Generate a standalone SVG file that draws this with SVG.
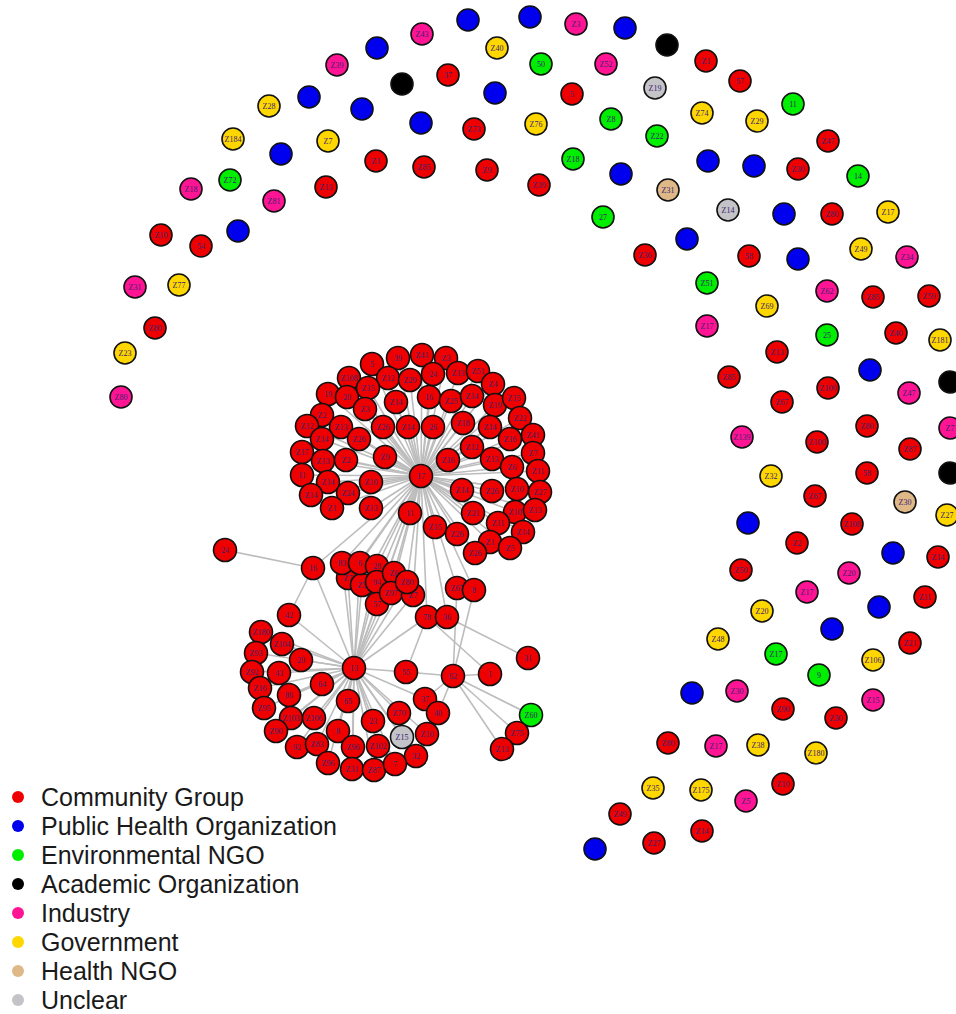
<svg xmlns="http://www.w3.org/2000/svg" width="956" height="1014" viewBox="0 0 956 1014">
<style>
.n circle{stroke:#111;stroke-width:1.6}
.cg{fill:#ee0000}.ph{fill:#0000ee}.en{fill:#00ee00}.ac{fill:#000}.in{fill:#ff1493}.gv{fill:#ffd700}.hn{fill:#deb887}.un{fill:#c4c4c8}
.n text{font-family:"Liberation Serif",serif;font-size:8px;fill:#3b2370;text-anchor:middle}
.e line{stroke:#bdbdbd;stroke-width:1.6}
.lg text{font-family:"Liberation Sans",Arial,sans-serif;font-size:25px;fill:#1a1a1a}
</style>
<rect width="956" height="1014" fill="#fff"/>
<g id="connectors" class="e">
<line x1="421" y1="476" x2="372" y2="364"/><line x1="421" y1="476" x2="398" y2="358"/><line x1="421" y1="476" x2="422" y2="355"/><line x1="421" y1="476" x2="446" y2="358"/><line x1="421" y1="476" x2="349" y2="378"/><line x1="421" y1="476" x2="388" y2="378"/><line x1="421" y1="476" x2="410" y2="380"/><line x1="421" y1="476" x2="433" y2="374"/><line x1="421" y1="476" x2="458" y2="373"/><line x1="421" y1="476" x2="478" y2="371"/><line x1="421" y1="476" x2="493" y2="384"/><line x1="421" y1="476" x2="328" y2="394"/><line x1="421" y1="476" x2="347" y2="397"/><line x1="421" y1="476" x2="368" y2="388"/><line x1="421" y1="476" x2="396" y2="402"/><line x1="421" y1="476" x2="429" y2="397"/><line x1="421" y1="476" x2="451" y2="401"/><line x1="421" y1="476" x2="472" y2="396"/><line x1="421" y1="476" x2="495" y2="405"/><line x1="421" y1="476" x2="514" y2="398"/><line x1="421" y1="476" x2="365" y2="409"/><line x1="421" y1="476" x2="322" y2="415"/><line x1="421" y1="476" x2="520" y2="418"/><line x1="421" y1="476" x2="307" y2="426"/><line x1="421" y1="476" x2="341" y2="427"/><line x1="421" y1="476" x2="383" y2="427"/><line x1="421" y1="476" x2="408" y2="427"/><line x1="421" y1="476" x2="433" y2="427"/><line x1="421" y1="476" x2="463" y2="423"/><line x1="421" y1="476" x2="490" y2="427"/><line x1="421" y1="476" x2="533" y2="435"/><line x1="421" y1="476" x2="322" y2="439"/><line x1="421" y1="476" x2="359" y2="439"/><line x1="421" y1="476" x2="510" y2="439"/><line x1="421" y1="476" x2="302" y2="452"/><line x1="421" y1="476" x2="323" y2="461"/><line x1="421" y1="476" x2="346" y2="460"/><line x1="421" y1="476" x2="385" y2="457"/><line x1="421" y1="476" x2="472" y2="447"/><line x1="421" y1="476" x2="533" y2="453"/><line x1="421" y1="476" x2="448" y2="460"/><line x1="421" y1="476" x2="492" y2="459"/><line x1="421" y1="476" x2="512" y2="467"/><line x1="421" y1="476" x2="538" y2="471"/><line x1="421" y1="476" x2="302" y2="475"/><line x1="421" y1="476" x2="328" y2="482"/><line x1="421" y1="476" x2="371" y2="482"/><line x1="421" y1="476" x2="462" y2="490"/><line x1="421" y1="476" x2="492" y2="491"/><line x1="421" y1="476" x2="517" y2="489"/><line x1="421" y1="476" x2="540" y2="492"/><line x1="421" y1="476" x2="311" y2="495"/><line x1="421" y1="476" x2="348" y2="493"/><line x1="421" y1="476" x2="332" y2="508"/><line x1="421" y1="476" x2="371" y2="508"/><line x1="421" y1="476" x2="410" y2="513"/><line x1="421" y1="476" x2="473" y2="513"/><line x1="421" y1="476" x2="515" y2="512"/><line x1="421" y1="476" x2="535" y2="510"/><line x1="421" y1="476" x2="498" y2="523"/><line x1="421" y1="476" x2="435" y2="527"/><line x1="421" y1="476" x2="457" y2="534"/><line x1="421" y1="476" x2="523" y2="532"/><line x1="421" y1="476" x2="490" y2="542"/><line x1="421" y1="476" x2="510" y2="548"/><line x1="421" y1="476" x2="475" y2="553"/>
<line x1="421" y1="476" x2="313" y2="568"/><line x1="421" y1="476" x2="342" y2="563"/><line x1="421" y1="476" x2="360" y2="563"/><line x1="421" y1="476" x2="377" y2="566"/><line x1="421" y1="476" x2="348" y2="578"/><line x1="421" y1="476" x2="362" y2="585"/><line x1="421" y1="476" x2="377" y2="582"/><line x1="421" y1="476" x2="394" y2="573"/><line x1="421" y1="476" x2="407" y2="582"/><line x1="421" y1="476" x2="391" y2="593"/><line x1="421" y1="476" x2="413" y2="595"/><line x1="421" y1="476" x2="377" y2="604"/><line x1="421" y1="476" x2="457" y2="588"/><line x1="421" y1="476" x2="474" y2="590"/><line x1="421" y1="476" x2="427" y2="617"/><line x1="421" y1="476" x2="447" y2="617"/><line x1="421" y1="476" x2="354" y2="668"/>
<line x1="354" y1="668" x2="289" y2="615"/><line x1="354" y1="668" x2="313" y2="568"/><line x1="354" y1="668" x2="342" y2="563"/><line x1="354" y1="668" x2="360" y2="563"/><line x1="354" y1="668" x2="377" y2="566"/><line x1="354" y1="668" x2="348" y2="578"/><line x1="354" y1="668" x2="362" y2="585"/><line x1="354" y1="668" x2="377" y2="582"/><line x1="354" y1="668" x2="394" y2="573"/><line x1="354" y1="668" x2="407" y2="582"/><line x1="354" y1="668" x2="391" y2="593"/><line x1="354" y1="668" x2="413" y2="595"/><line x1="354" y1="668" x2="377" y2="604"/><line x1="354" y1="668" x2="427" y2="617"/><line x1="354" y1="668" x2="406" y2="672"/><line x1="354" y1="668" x2="425" y2="699"/>
<line x1="354" y1="668" x2="261" y2="632"/><line x1="354" y1="668" x2="282" y2="644"/><line x1="354" y1="668" x2="256" y2="653"/><line x1="354" y1="668" x2="301" y2="660"/><line x1="354" y1="668" x2="252" y2="672"/><line x1="354" y1="668" x2="279" y2="673"/><line x1="354" y1="668" x2="322" y2="684"/><line x1="354" y1="668" x2="260" y2="688"/><line x1="354" y1="668" x2="289" y2="695"/><line x1="354" y1="668" x2="348" y2="701"/><line x1="354" y1="668" x2="264" y2="708"/><line x1="354" y1="668" x2="291" y2="718"/><line x1="354" y1="668" x2="314" y2="718"/><line x1="354" y1="668" x2="399" y2="713"/><line x1="354" y1="668" x2="373" y2="721"/><line x1="354" y1="668" x2="276" y2="731"/><line x1="354" y1="668" x2="338" y2="731"/><line x1="354" y1="668" x2="402" y2="737"/><line x1="354" y1="668" x2="427" y2="734"/><line x1="354" y1="668" x2="297" y2="747"/><line x1="354" y1="668" x2="317" y2="744"/><line x1="354" y1="668" x2="353" y2="747"/><line x1="354" y1="668" x2="378" y2="746"/><line x1="354" y1="668" x2="416" y2="756"/><line x1="354" y1="668" x2="328" y2="763"/><line x1="354" y1="668" x2="352" y2="769"/><line x1="354" y1="668" x2="374" y2="770"/><line x1="354" y1="668" x2="395" y2="764"/>
<line x1="225" y1="550" x2="313" y2="568"/><line x1="313" y1="568" x2="289" y2="615"/><line x1="447" y1="617" x2="528" y2="658"/><line x1="427" y1="617" x2="406" y2="672"/><line x1="427" y1="617" x2="490" y2="674"/><line x1="457" y1="588" x2="453" y2="676"/><line x1="474" y1="590" x2="453" y2="676"/><line x1="453" y1="676" x2="406" y2="672"/><line x1="453" y1="676" x2="490" y2="674"/><line x1="453" y1="676" x2="531" y2="715"/><line x1="453" y1="676" x2="517" y2="733"/><line x1="453" y1="676" x2="502" y2="749"/><line x1="453" y1="676" x2="425" y2="699"/><line x1="453" y1="676" x2="438" y2="713"/>
</g>
<g id="outer">
<g id="o1" class="n"><circle class="ph" cx="468" cy="20" r="11"/></g>
<g id="o2" class="n"><circle class="ph" cx="530" cy="17" r="11"/></g>
<g id="o3" class="n"><circle class="in" cx="576" cy="24" r="11"/><text x="576" y="27">Z3</text></g>
<g id="o4" class="n"><circle class="ph" cx="625" cy="28" r="11"/></g>
<g id="o5" class="n"><circle class="ac" cx="667" cy="45" r="11"/></g>
<g id="o6" class="n"><circle class="cg" cx="706" cy="61" r="11"/><text x="706" y="64">Z1</text></g>
<g id="o7" class="n"><circle class="cg" cx="740" cy="81" r="11"/><text x="740" y="84">57</text></g>
<g id="o8" class="n"><circle class="en" cx="793" cy="104" r="11"/><text x="793" y="107">11</text></g>
<g id="o9" class="n"><circle class="cg" cx="828" cy="141" r="11"/><text x="828" y="144">Z47</text></g>
<g id="o10" class="n"><circle class="en" cx="858" cy="176" r="11"/><text x="858" y="179">14</text></g>
<g id="o11" class="n"><circle class="gv" cx="888" cy="212" r="11"/><text x="888" y="215">Z17</text></g>
<g id="o12" class="n"><circle class="in" cx="907" cy="257" r="11"/><text x="907" y="260">Z34</text></g>
<g id="o13" class="n"><circle class="cg" cx="929" cy="296" r="11"/><text x="929" y="299">Z59</text></g>
<g id="o14" class="n"><circle class="gv" cx="940" cy="340" r="11"/><text x="940" y="343">Z181</text></g>
<g id="o15" class="n"><circle class="ac" cx="950" cy="382" r="11"/></g>
<g id="o16" class="n"><circle class="in" cx="950" cy="428" r="11"/><text x="950" y="431">Z7</text></g>
<g id="o17" class="n"><circle class="ac" cx="950" cy="473" r="11"/></g>
<g id="o18" class="n"><circle class="gv" cx="947" cy="515" r="11"/><text x="947" y="518">Z27</text></g>
<g id="o19" class="n"><circle class="in" cx="422" cy="34" r="11"/><text x="422" y="37">Z43</text></g>
<g id="o20" class="n"><circle class="ph" cx="377" cy="48" r="11"/></g>
<g id="o21" class="n"><circle class="in" cx="337" cy="65" r="11"/><text x="337" y="68">Z39</text></g>
<g id="o22" class="n"><circle class="gv" cx="497" cy="48" r="11"/><text x="497" y="51">Z40</text></g>
<g id="o23" class="n"><circle class="en" cx="541" cy="64" r="11"/><text x="541" y="67">50</text></g>
<g id="o24" class="n"><circle class="in" cx="606" cy="64" r="11"/><text x="606" y="67">Z52</text></g>
<g id="o25" class="n"><circle class="un" cx="655" cy="88" r="11"/><text x="655" y="91">Z19</text></g>
<g id="o26" class="n"><circle class="gv" cx="702" cy="113" r="11"/><text x="702" y="116">Z74</text></g>
<g id="o27" class="n"><circle class="gv" cx="757" cy="121" r="11"/><text x="757" y="124">Z29</text></g>
<g id="o28" class="n"><circle class="cg" cx="798" cy="169" r="11"/><text x="798" y="172">Z30</text></g>
<g id="o29" class="n"><circle class="cg" cx="832" cy="214" r="11"/><text x="832" y="217">Z80</text></g>
<g id="o30" class="n"><circle class="gv" cx="861" cy="249" r="11"/><text x="861" y="252">Z49</text></g>
<g id="o31" class="n"><circle class="cg" cx="873" cy="297" r="11"/><text x="873" y="300">Z85</text></g>
<g id="o32" class="n"><circle class="cg" cx="896" cy="333" r="11"/><text x="896" y="336">Z40</text></g>
<g id="o33" class="n"><circle class="in" cx="909" cy="393" r="11"/><text x="909" y="396">Z47</text></g>
<g id="o34" class="n"><circle class="cg" cx="910" cy="449" r="11"/><text x="910" y="452">Z87</text></g>
<g id="o35" class="n"><circle class="hn" cx="905" cy="502" r="11"/><text x="905" y="505">Z30</text></g>
<g id="o36" class="n"><circle class="cg" cx="938" cy="557" r="11"/><text x="938" y="560">Z14</text></g>
<g id="o37" class="n"><circle class="cg" cx="925" cy="597" r="11"/><text x="925" y="600">Z11</text></g>
<g id="o38" class="n"><circle class="cg" cx="910" cy="643" r="11"/><text x="910" y="646">Z21</text></g>
<g id="o39" class="n"><circle class="gv" cx="873" cy="660" r="11"/><text x="873" y="663">Z106</text></g>
<g id="o40" class="n"><circle class="in" cx="873" cy="700" r="11"/><text x="873" y="703">Z15</text></g>
<g id="o41" class="n"><circle class="cg" cx="836" cy="718" r="11"/><text x="836" y="721">Z30</text></g>
<g id="o42" class="n"><circle class="gv" cx="816" cy="753" r="11"/><text x="816" y="756">Z180</text></g>
<g id="o43" class="n"><circle class="cg" cx="783" cy="784" r="11"/><text x="783" y="787">Z10</text></g>
<g id="o44" class="n"><circle class="in" cx="746" cy="801" r="11"/><text x="746" y="804">Z5</text></g>
<g id="o45" class="n"><circle class="cg" cx="702" cy="831" r="11"/><text x="702" y="834">Z14</text></g>
<g id="o46" class="n"><circle class="cg" cx="654" cy="843" r="11"/><text x="654" y="846">Z27</text></g>
<g id="o47" class="n"><circle class="ph" cx="595" cy="849" r="11"/></g>
<g id="o48" class="n"><circle class="cg" cx="620" cy="814" r="11"/><text x="620" y="817">Z49</text></g>
<g id="o49" class="n"><circle class="gv" cx="653" cy="788" r="11"/><text x="653" y="791">Z35</text></g>
<g id="o50" class="n"><circle class="gv" cx="701" cy="790" r="11"/><text x="701" y="793">Z175</text></g>
<g id="o51" class="n"><circle class="gv" cx="758" cy="745" r="11"/><text x="758" y="748">Z38</text></g>
<g id="o52" class="n"><circle class="in" cx="716" cy="746" r="11"/><text x="716" y="749">Z17</text></g>
<g id="o53" class="n"><circle class="cg" cx="668" cy="743" r="11"/><text x="668" y="746">Z80</text></g>
<g id="o54" class="n"><circle class="ph" cx="692" cy="693" r="11"/></g>
<g id="o55" class="n"><circle class="in" cx="737" cy="691" r="11"/><text x="737" y="694">Z30</text></g>
<g id="o56" class="n"><circle class="cg" cx="783" cy="709" r="11"/><text x="783" y="712">Z90</text></g>
<g id="o57" class="n"><circle class="en" cx="819" cy="675" r="11"/><text x="819" y="678">9</text></g>
<g id="o58" class="n"><circle class="en" cx="776" cy="654" r="11"/><text x="776" y="657">Z17</text></g>
<g id="o59" class="n"><circle class="gv" cx="718" cy="639" r="11"/><text x="718" y="642">Z48</text></g>
<g id="o60" class="n"><circle class="gv" cx="762" cy="611" r="11"/><text x="762" y="614">Z20</text></g>
<g id="o61" class="n"><circle class="ph" cx="832" cy="629" r="11"/></g>
<g id="o62" class="n"><circle class="ph" cx="879" cy="607" r="11"/></g>
<g id="o63" class="n"><circle class="in" cx="807" cy="592" r="11"/><text x="807" y="595">Z17</text></g>
<g id="o64" class="n"><circle class="in" cx="849" cy="573" r="11"/><text x="849" y="576">Z20</text></g>
<g id="o65" class="n"><circle class="ph" cx="893" cy="553" r="11"/></g>
<g id="o66" class="n"><circle class="cg" cx="852" cy="524" r="11"/><text x="852" y="527">Z108</text></g>
<g id="o67" class="n"><circle class="cg" cx="797" cy="543" r="11"/><text x="797" y="546">Z2</text></g>
<g id="o68" class="n"><circle class="cg" cx="741" cy="570" r="11"/><text x="741" y="573">Z50</text></g>
<g id="o69" class="n"><circle class="ph" cx="748" cy="523" r="11"/></g>
<g id="o70" class="n"><circle class="cg" cx="815" cy="496" r="11"/><text x="815" y="499">Z67</text></g>
<g id="o71" class="n"><circle class="cg" cx="867" cy="473" r="11"/><text x="867" y="476">58</text></g>
<g id="o72" class="n"><circle class="gv" cx="771" cy="476" r="11"/><text x="771" y="479">Z32</text></g>
<g id="o73" class="n"><circle class="cg" cx="817" cy="442" r="11"/><text x="817" y="445">Z100</text></g>
<g id="o74" class="n"><circle class="cg" cx="867" cy="426" r="11"/><text x="867" y="429">Z80</text></g>
<g id="o75" class="n"><circle class="in" cx="742" cy="437" r="11"/><text x="742" y="440">Z139</text></g>
<g id="o76" class="n"><circle class="cg" cx="782" cy="402" r="11"/><text x="782" y="405">Z67</text></g>
<g id="o77" class="n"><circle class="cg" cx="828" cy="388" r="11"/><text x="828" y="391">Z109</text></g>
<g id="o78" class="n"><circle class="ph" cx="870" cy="370" r="11"/></g>
<g id="o79" class="n"><circle class="cg" cx="729" cy="377" r="11"/><text x="729" y="380">Z85</text></g>
<g id="o80" class="n"><circle class="cg" cx="777" cy="352" r="11"/><text x="777" y="355">Z13</text></g>
<g id="o81" class="n"><circle class="en" cx="827" cy="335" r="11"/><text x="827" y="338">25</text></g>
<g id="o82" class="n"><circle class="in" cx="707" cy="326" r="11"/><text x="707" y="329">Z17</text></g>
<g id="o83" class="n"><circle class="gv" cx="767" cy="306" r="11"/><text x="767" y="309">Z69</text></g>
<g id="o84" class="n"><circle class="in" cx="827" cy="291" r="11"/><text x="827" y="294">Z62</text></g>
<g id="o86" class="n"><circle class="en" cx="707" cy="283" r="11"/><text x="707" y="286">Z51</text></g>
<g id="o87" class="n"><circle class="cg" cx="749" cy="256" r="11"/><text x="749" y="259">58</text></g>
<g id="o88" class="n"><circle class="ph" cx="798" cy="259" r="11"/></g>
<g id="o89" class="n"><circle class="cg" cx="645" cy="255" r="11"/><text x="645" y="258">Z36</text></g>
<g id="o90" class="n"><circle class="ph" cx="687" cy="239" r="11"/></g>
<g id="o91" class="n"><circle class="un" cx="728" cy="210" r="11"/><text x="728" y="213">Z14</text></g>
<g id="o92" class="n"><circle class="ph" cx="784" cy="214" r="11"/></g>
<g id="o93" class="n"><circle class="ph" cx="708" cy="161" r="11"/></g>
<g id="o94" class="n"><circle class="ph" cx="754" cy="166" r="11"/></g>
<g id="o95" class="n"><circle class="en" cx="603" cy="217" r="11"/><text x="603" y="220">27</text></g>
<g id="o96" class="n"><circle class="hn" cx="668" cy="190" r="11"/><text x="668" y="193">Z31</text></g>
<g id="o97" class="n"><circle class="ph" cx="621" cy="174" r="11"/></g>
<g id="o98" class="n"><circle class="en" cx="657" cy="136" r="11"/><text x="657" y="139">Z22</text></g>
<g id="o99" class="n"><circle class="en" cx="611" cy="119" r="11"/><text x="611" y="122">Z8</text></g>
<g id="o100" class="n"><circle class="en" cx="573" cy="159" r="11"/><text x="573" y="162">Z18</text></g>
<g id="o101" class="n"><circle class="cg" cx="539" cy="185" r="11"/><text x="539" y="188">Z39</text></g>
<g id="o102" class="n"><circle class="cg" cx="487" cy="170" r="11"/><text x="487" y="173">Z9</text></g>
<g id="o103" class="n"><circle class="cg" cx="424" cy="167" r="11"/><text x="424" y="170">Z85</text></g>
<g id="o104" class="n"><circle class="gv" cx="536" cy="124" r="11"/><text x="536" y="127">Z76</text></g>
<g id="o105" class="n"><circle class="cg" cx="474" cy="129" r="11"/><text x="474" y="132">Z73</text></g>
<g id="o106" class="n"><circle class="ph" cx="421" cy="123" r="11"/></g>
<g id="o107" class="n"><circle class="cg" cx="572" cy="94" r="11"/><text x="572" y="97">5</text></g>
<g id="o108" class="n"><circle class="ph" cx="495" cy="93" r="11"/></g>
<g id="o109" class="n"><circle class="cg" cx="448" cy="75" r="11"/><text x="448" y="78">37</text></g>
<g id="o110" class="n"><circle class="ac" cx="402" cy="84" r="11"/></g>
<g id="o111" class="n"><circle class="ph" cx="362" cy="109" r="11"/></g>
<g id="o112" class="n"><circle class="ph" cx="309" cy="97" r="11"/></g>
<g id="o113" class="n"><circle class="gv" cx="269" cy="106" r="11"/><text x="269" y="109">Z28</text></g>
<g id="o114" class="n"><circle class="gv" cx="233" cy="139" r="11"/><text x="233" y="142">Z184</text></g>
<g id="o115" class="n"><circle class="gv" cx="328" cy="141" r="11"/><text x="328" y="144">Z7</text></g>
<g id="o116" class="n"><circle class="ph" cx="281" cy="154" r="11"/></g>
<g id="o117" class="n"><circle class="cg" cx="376" cy="161" r="11"/><text x="376" y="164">Z1</text></g>
<g id="o118" class="n"><circle class="en" cx="230" cy="180" r="11"/><text x="230" y="183">Z72</text></g>
<g id="o119" class="n"><circle class="in" cx="191" cy="189" r="11"/><text x="191" y="192">Z18</text></g>
<g id="o120" class="n"><circle class="cg" cx="326" cy="187" r="11"/><text x="326" y="190">Z13</text></g>
<g id="o121" class="n"><circle class="in" cx="274" cy="201" r="11"/><text x="274" y="204">Z81</text></g>
<g id="o122" class="n"><circle class="ph" cx="238" cy="231" r="11"/></g>
<g id="o123" class="n"><circle class="cg" cx="161" cy="235" r="11"/><text x="161" y="238">Z10</text></g>
<g id="o124" class="n"><circle class="cg" cx="201" cy="246" r="11"/><text x="201" y="249">54</text></g>
<g id="o125" class="n"><circle class="in" cx="135" cy="287" r="11"/><text x="135" y="290">Z31</text></g>
<g id="o126" class="n"><circle class="gv" cx="179" cy="285" r="11"/><text x="179" y="288">Z77</text></g>
<g id="o127" class="n"><circle class="cg" cx="155" cy="328" r="11"/><text x="155" y="331">Z80</text></g>
<g id="o128" class="n"><circle class="gv" cx="125" cy="353" r="11"/><text x="125" y="356">Z23</text></g>
<g id="o129" class="n"><circle class="in" cx="121" cy="397" r="11"/><text x="121" y="400">Z80</text></g>
</g>
<g id="cluster1">
<g id="c1" class="n"><circle class="cg" cx="372" cy="364" r="11.5"/><text x="372" y="367">5</text></g>
<g id="c2" class="n"><circle class="cg" cx="398" cy="358" r="11.5"/><text x="398" y="361">39</text></g>
<g id="c3" class="n"><circle class="cg" cx="422" cy="355" r="11.5"/><text x="422" y="358">Z41</text></g>
<g id="c4" class="n"><circle class="cg" cx="446" cy="358" r="11.5"/><text x="446" y="361">Z3</text></g>
<g id="c5" class="n"><circle class="cg" cx="349" cy="378" r="11.5"/><text x="349" y="381">Z108</text></g>
<g id="c6" class="n"><circle class="cg" cx="388" cy="378" r="11.5"/><text x="388" y="381">Z12</text></g>
<g id="c7" class="n"><circle class="cg" cx="410" cy="380" r="11.5"/><text x="410" y="383">Z29</text></g>
<g id="c8" class="n"><circle class="cg" cx="433" cy="374" r="11.5"/><text x="433" y="377">24</text></g>
<g id="c9" class="n"><circle class="cg" cx="458" cy="373" r="11.5"/><text x="458" y="376">Z13</text></g>
<g id="c10" class="n"><circle class="cg" cx="478" cy="371" r="11.5"/><text x="478" y="374">Z51</text></g>
<g id="c11" class="n"><circle class="cg" cx="493" cy="384" r="11.5"/><text x="493" y="387">Z4</text></g>
<g id="c12" class="n"><circle class="cg" cx="328" cy="394" r="11.5"/><text x="328" y="397">19</text></g>
<g id="c13" class="n"><circle class="cg" cx="347" cy="397" r="11.5"/><text x="347" y="400">20</text></g>
<g id="c14" class="n"><circle class="cg" cx="368" cy="388" r="11.5"/><text x="368" y="391">Z15</text></g>
<g id="c15" class="n"><circle class="cg" cx="396" cy="402" r="11.5"/><text x="396" y="405">Z14</text></g>
<g id="c16" class="n"><circle class="cg" cx="429" cy="397" r="11.5"/><text x="429" y="400">16</text></g>
<g id="c17" class="n"><circle class="cg" cx="451" cy="401" r="11.5"/><text x="451" y="404">Z25</text></g>
<g id="c18" class="n"><circle class="cg" cx="472" cy="396" r="11.5"/><text x="472" y="399">Z14</text></g>
<g id="c19" class="n"><circle class="cg" cx="495" cy="405" r="11.5"/><text x="495" y="408">Z19</text></g>
<g id="c20" class="n"><circle class="cg" cx="514" cy="398" r="11.5"/><text x="514" y="401">Z15</text></g>
<g id="c21" class="n"><circle class="cg" cx="365" cy="409" r="11.5"/><text x="365" y="412">Z3</text></g>
<g id="c22" class="n"><circle class="cg" cx="322" cy="415" r="11.5"/><text x="322" y="418">Z2</text></g>
<g id="c23" class="n"><circle class="cg" cx="520" cy="418" r="11.5"/><text x="520" y="421">Z22</text></g>
<g id="c24" class="n"><circle class="cg" cx="307" cy="426" r="11.5"/><text x="307" y="429">Z12</text></g>
<g id="c25" class="n"><circle class="cg" cx="341" cy="427" r="11.5"/><text x="341" y="430">Z13</text></g>
<g id="c26" class="n"><circle class="cg" cx="383" cy="427" r="11.5"/><text x="383" y="430">Z26</text></g>
<g id="c27" class="n"><circle class="cg" cx="408" cy="427" r="11.5"/><text x="408" y="430">Z14</text></g>
<g id="c28" class="n"><circle class="cg" cx="433" cy="427" r="11.5"/><text x="433" y="430">26</text></g>
<g id="c29" class="n"><circle class="cg" cx="463" cy="423" r="11.5"/><text x="463" y="426">Z18</text></g>
<g id="c30" class="n"><circle class="cg" cx="490" cy="427" r="11.5"/><text x="490" y="430">Z14</text></g>
<g id="c31" class="n"><circle class="cg" cx="533" cy="435" r="11.5"/><text x="533" y="438">Z41</text></g>
<g id="c32" class="n"><circle class="cg" cx="322" cy="439" r="11.5"/><text x="322" y="442">Z14</text></g>
<g id="c33" class="n"><circle class="cg" cx="359" cy="439" r="11.5"/><text x="359" y="442">Z26</text></g>
<g id="c34" class="n"><circle class="cg" cx="510" cy="439" r="11.5"/><text x="510" y="442">Z16</text></g>
<g id="c35" class="n"><circle class="cg" cx="302" cy="452" r="11.5"/><text x="302" y="455">Z17</text></g>
<g id="c36" class="n"><circle class="cg" cx="323" cy="461" r="11.5"/><text x="323" y="464">Z13</text></g>
<g id="c37" class="n"><circle class="cg" cx="346" cy="460" r="11.5"/><text x="346" y="463">Z2</text></g>
<g id="c38" class="n"><circle class="cg" cx="385" cy="457" r="11.5"/><text x="385" y="460">Z9</text></g>
<g id="c39" class="n"><circle class="cg" cx="472" cy="447" r="11.5"/><text x="472" y="450">Z12</text></g>
<g id="c40" class="n"><circle class="cg" cx="533" cy="453" r="11.5"/><text x="533" y="456">Z7</text></g>
<g id="c41" class="n"><circle class="cg" cx="448" cy="460" r="11.5"/><text x="448" y="463">Z16</text></g>
<g id="c42" class="n"><circle class="cg" cx="492" cy="459" r="11.5"/><text x="492" y="462">Z13</text></g>
<g id="c43" class="n"><circle class="cg" cx="512" cy="467" r="11.5"/><text x="512" y="470">Z6</text></g>
<g id="c44" class="n"><circle class="cg" cx="538" cy="471" r="11.5"/><text x="538" y="474">Z11</text></g>
<g id="c45" class="n"><circle class="cg" cx="302" cy="475" r="11.5"/><text x="302" y="478">11</text></g>
<g id="c46" class="n"><circle class="cg" cx="328" cy="482" r="11.5"/><text x="328" y="485">Z14</text></g>
<g id="c47" class="n"><circle class="cg" cx="371" cy="482" r="11.5"/><text x="371" y="485">Z10</text></g>
<g id="c48" class="n"><circle class="cg" cx="462" cy="490" r="11.5"/><text x="462" y="493">Z14</text></g>
<g id="c49" class="n"><circle class="cg" cx="492" cy="491" r="11.5"/><text x="492" y="494">Z26</text></g>
<g id="c50" class="n"><circle class="cg" cx="517" cy="489" r="11.5"/><text x="517" y="492">Z10</text></g>
<g id="c51" class="n"><circle class="cg" cx="540" cy="492" r="11.5"/><text x="540" y="495">Z27</text></g>
<g id="c52" class="n"><circle class="cg" cx="311" cy="495" r="11.5"/><text x="311" y="498">Z14</text></g>
<g id="c53" class="n"><circle class="cg" cx="348" cy="493" r="11.5"/><text x="348" y="496">Z24</text></g>
<g id="c54" class="n"><circle class="cg" cx="332" cy="508" r="11.5"/><text x="332" y="511">Z1</text></g>
<g id="c55" class="n"><circle class="cg" cx="371" cy="508" r="11.5"/><text x="371" y="511">Z13</text></g>
<g id="c56" class="n"><circle class="cg" cx="410" cy="513" r="11.5"/><text x="410" y="516">11</text></g>
<g id="c57" class="n"><circle class="cg" cx="473" cy="513" r="11.5"/><text x="473" y="516">Z21</text></g>
<g id="c58" class="n"><circle class="cg" cx="515" cy="512" r="11.5"/><text x="515" y="515">Z10</text></g>
<g id="c59" class="n"><circle class="cg" cx="535" cy="510" r="11.5"/><text x="535" y="513">Z13</text></g>
<g id="c60" class="n"><circle class="cg" cx="498" cy="523" r="11.5"/><text x="498" y="526">Z11</text></g>
<g id="c61" class="n"><circle class="cg" cx="435" cy="527" r="11.5"/><text x="435" y="530">Z15</text></g>
<g id="c62" class="n"><circle class="cg" cx="457" cy="534" r="11.5"/><text x="457" y="537">Z26</text></g>
<g id="c63" class="n"><circle class="cg" cx="523" cy="532" r="11.5"/><text x="523" y="535">Z14</text></g>
<g id="c64" class="n"><circle class="cg" cx="490" cy="542" r="11.5"/><text x="490" y="545">Z1</text></g>
<g id="c65" class="n"><circle class="cg" cx="510" cy="548" r="11.5"/><text x="510" y="551">Z5</text></g>
<g id="c66" class="n"><circle class="cg" cx="475" cy="553" r="11.5"/><text x="475" y="556">Z26</text></g>
<g id="h17" class="n"><circle class="cg" cx="421" cy="476" r="11.5"/><text x="421" y="479">17</text></g>
</g>
<g id="middle">
<g id="m1" class="n"><circle class="cg" cx="225" cy="550" r="11.5"/><text x="225" y="553">24</text></g>
<g id="m2" class="n"><circle class="cg" cx="313" cy="568" r="11.5"/><text x="313" y="571">16</text></g>
<g id="m3" class="n"><circle class="cg" cx="348" cy="578" r="11.5"/><text x="348" y="581">Z7</text></g>
<g id="m4" class="n"><circle class="cg" cx="362" cy="585" r="11.5"/><text x="362" y="588">Z5</text></g>
<g id="m5" class="n"><circle class="cg" cx="342" cy="563" r="11.5"/><text x="342" y="566">83</text></g>
<g id="m6" class="n"><circle class="cg" cx="360" cy="563" r="11.5"/><text x="360" y="566">6</text></g>
<g id="m7" class="n"><circle class="cg" cx="377" cy="566" r="11.5"/><text x="377" y="569">28</text></g>
<g id="m8" class="n"><circle class="cg" cx="377" cy="582" r="11.5"/><text x="377" y="585">94</text></g>
<g id="m9" class="n"><circle class="cg" cx="394" cy="573" r="11.5"/><text x="394" y="576">Z6</text></g>
<g id="m10" class="n"><circle class="cg" cx="377" cy="604" r="11.5"/><text x="377" y="607">57</text></g>
<g id="m11" class="n"><circle class="cg" cx="391" cy="593" r="11.5"/><text x="391" y="596">Z97</text></g>
<g id="m12" class="n"><circle class="cg" cx="413" cy="595" r="11.5"/><text x="413" y="598">Z7</text></g>
<g id="m13" class="n"><circle class="cg" cx="407" cy="582" r="11.5"/><text x="407" y="585">Z80</text></g>
<g id="m14" class="n"><circle class="cg" cx="457" cy="588" r="11.5"/><text x="457" y="591">Z67</text></g>
<g id="m15" class="n"><circle class="cg" cx="474" cy="590" r="11.5"/><text x="474" y="593">8</text></g>
<g id="m16" class="n"><circle class="cg" cx="427" cy="617" r="11.5"/><text x="427" y="620">78</text></g>
<g id="m17" class="n"><circle class="cg" cx="447" cy="617" r="11.5"/><text x="447" y="620">36</text></g>
</g>
<g id="cluster2">
<g id="d1" class="n"><circle class="cg" cx="289" cy="615" r="11.5"/><text x="289" y="618">42</text></g>
<g id="d2" class="n"><circle class="cg" cx="261" cy="632" r="11.5"/><text x="261" y="635">Z180</text></g>
<g id="d3" class="n"><circle class="cg" cx="282" cy="644" r="11.5"/><text x="282" y="647">Z104</text></g>
<g id="d4" class="n"><circle class="cg" cx="256" cy="653" r="11.5"/><text x="256" y="656">Z93</text></g>
<g id="d5" class="n"><circle class="cg" cx="301" cy="660" r="11.5"/><text x="301" y="663">20</text></g>
<g id="d6" class="n"><circle class="cg" cx="252" cy="672" r="11.5"/><text x="252" y="675">Z92</text></g>
<g id="d7" class="n"><circle class="cg" cx="279" cy="673" r="11.5"/><text x="279" y="676">43</text></g>
<g id="d8" class="n"><circle class="cg" cx="406" cy="672" r="11.5"/><text x="406" y="675">55</text></g>
<g id="d9" class="n"><circle class="cg" cx="453" cy="676" r="11.5"/><text x="453" y="679">62</text></g>
<g id="d10" class="n"><circle class="cg" cx="490" cy="674" r="11.5"/><text x="490" y="677">1</text></g>
<g id="d11" class="n"><circle class="cg" cx="528" cy="658" r="11.5"/><text x="528" y="661">31</text></g>
<g id="d12" class="n"><circle class="cg" cx="322" cy="684" r="11.5"/><text x="322" y="687">64</text></g>
<g id="d13" class="n"><circle class="cg" cx="260" cy="688" r="11.5"/><text x="260" y="691">Z16</text></g>
<g id="d14" class="n"><circle class="cg" cx="289" cy="695" r="11.5"/><text x="289" y="698">86</text></g>
<g id="d15" class="n"><circle class="cg" cx="348" cy="701" r="11.5"/><text x="348" y="704">65</text></g>
<g id="d16" class="n"><circle class="cg" cx="425" cy="699" r="11.5"/><text x="425" y="702">37</text></g>
<g id="d17" class="n"><circle class="cg" cx="438" cy="713" r="11.5"/><text x="438" y="716">40</text></g>
<g id="d18" class="n"><circle class="cg" cx="264" cy="708" r="11.5"/><text x="264" y="711">Z95</text></g>
<g id="d19" class="n"><circle class="cg" cx="291" cy="718" r="11.5"/><text x="291" y="721">Z103</text></g>
<g id="d20" class="n"><circle class="cg" cx="314" cy="718" r="11.5"/><text x="314" y="721">Z106</text></g>
<g id="d21" class="n"><circle class="cg" cx="399" cy="713" r="11.5"/><text x="399" y="716">Z70</text></g>
<g id="d22" class="n"><circle class="cg" cx="373" cy="721" r="11.5"/><text x="373" y="724">23</text></g>
<g id="d23" class="n"><circle class="en" cx="531" cy="715" r="11.5"/><text x="531" y="718">Z60</text></g>
<g id="d24" class="n"><circle class="cg" cx="276" cy="731" r="11.5"/><text x="276" y="734">Z90</text></g>
<g id="d25" class="n"><circle class="cg" cx="338" cy="731" r="11.5"/><text x="338" y="734">8</text></g>
<g id="d26" class="n"><circle class="cg" cx="427" cy="734" r="11.5"/><text x="427" y="737">Z10</text></g>
<g id="d27" class="n"><circle class="un" cx="402" cy="737" r="11.5"/><text x="402" y="740">Z15</text></g>
<g id="d28" class="n"><circle class="cg" cx="517" cy="733" r="11.5"/><text x="517" y="736">Z75</text></g>
<g id="d29" class="n"><circle class="cg" cx="297" cy="747" r="11.5"/><text x="297" y="750">92</text></g>
<g id="d30" class="n"><circle class="cg" cx="317" cy="744" r="11.5"/><text x="317" y="747">Z83</text></g>
<g id="d31" class="n"><circle class="cg" cx="353" cy="747" r="11.5"/><text x="353" y="750">Z96</text></g>
<g id="d32" class="n"><circle class="cg" cx="378" cy="746" r="11.5"/><text x="378" y="749">Z102</text></g>
<g id="d33" class="n"><circle class="cg" cx="416" cy="756" r="11.5"/><text x="416" y="759">32</text></g>
<g id="d34" class="n"><circle class="cg" cx="502" cy="749" r="11.5"/><text x="502" y="752">Z13</text></g>
<g id="d35" class="n"><circle class="cg" cx="328" cy="763" r="11.5"/><text x="328" y="766">Z96</text></g>
<g id="d36" class="n"><circle class="cg" cx="352" cy="769" r="11.5"/><text x="352" y="772">Z31</text></g>
<g id="d37" class="n"><circle class="cg" cx="374" cy="770" r="11.5"/><text x="374" y="773">Z87</text></g>
<g id="d38" class="n"><circle class="cg" cx="395" cy="764" r="11.5"/><text x="395" y="767">7</text></g>
<g id="h13" class="n"><circle class="cg" cx="354" cy="668" r="11.5"/><text x="354" y="671">13</text></g>
</g>
<g id="legend" class="lg">
<circle class="cg" cx="18" cy="797" r="6"/><text x="41" y="806">Community Group</text>
<circle class="ph" cx="18" cy="826" r="6"/><text x="41" y="835">Public Health Organization</text>
<circle class="en" cx="18" cy="855" r="6"/><text x="41" y="864">Environmental NGO</text>
<circle class="ac" cx="18" cy="884" r="6"/><text x="41" y="893">Academic Organization</text>
<circle class="in" cx="18" cy="913" r="6"/><text x="41" y="922">Industry</text>
<circle class="gv" cx="18" cy="942" r="6"/><text x="41" y="951">Government</text>
<circle class="hn" cx="18" cy="971" r="6"/><text x="41" y="980">Health NGO</text>
<circle class="un" cx="18" cy="1000" r="6"/><text x="41" y="1009">Unclear</text>
</g>
</svg>
